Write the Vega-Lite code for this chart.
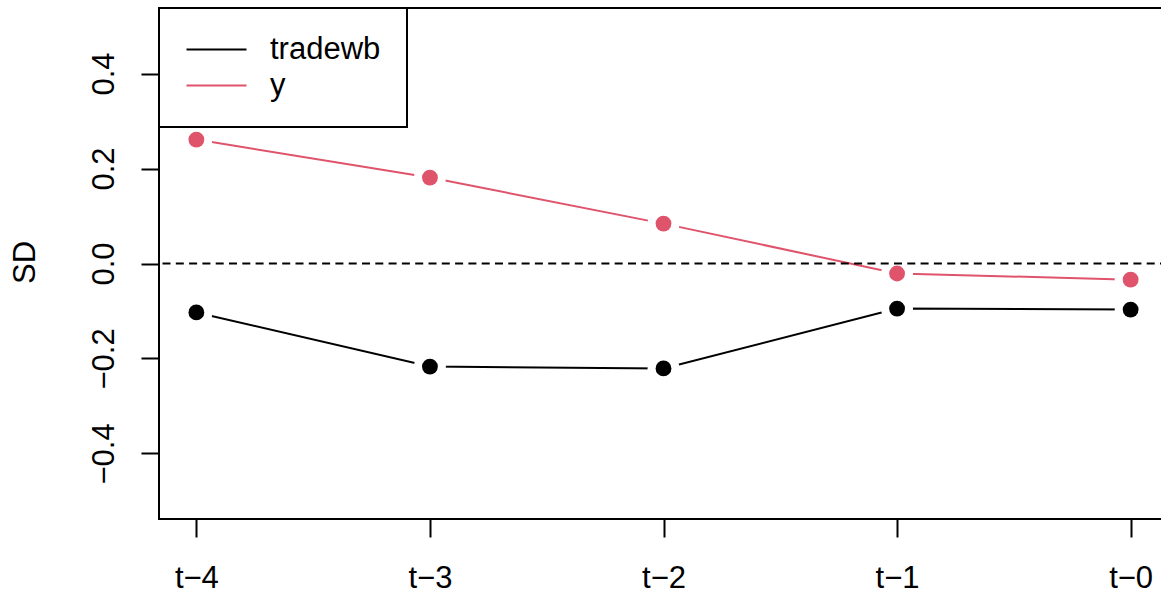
{
  "$schema": "https://vega.github.io/schema/vega-lite/v6.json",
  "width": 1009,
  "height": 511,
  "autosize": {"type": "none"},
  "padding": {"left": 159, "top": 8, "right": 0, "bottom": 74},
  "background": "white",
  "config": {
    "font": "Liberation Sans",
    "view": {"stroke": "black", "strokeWidth": 2},
    "axis": {
      "grid": false, "domain": false,
      "tickColor": "black", "tickWidth": 2, "tickSize": 18,
      "labelColor": "black", "labelFontSize": 31, "labelFont": "Liberation Sans",
      "titleFont": "Liberation Sans", "titleFontSize": 31, "titleFontWeight": "normal", "titleColor": "black"
    },
    "legend": {
      "orient": "top-left", "offset": 0, "padding": 26,
      "fillColor": "white", "strokeColor": "black", "strokeWidth": 2,
      "symbolType": "M-1,0H5", "symbolSize": 400, "symbolStrokeWidth": 2, "symbolOffset": -4,
      "labelFontSize": 31, "labelFont": "Liberation Sans", "labelColor": "black",
      "labelOffset": 58, "rowPadding": 4
    }
  },
  "data": {
    "values": [
      {"period": "t−4", "series": "tradewb", "value": -0.103},
      {"period": "t−3", "series": "tradewb", "value": -0.217},
      {"period": "t−2", "series": "tradewb", "value": -0.221},
      {"period": "t−1", "series": "tradewb", "value": -0.095},
      {"period": "t−0", "series": "tradewb", "value": -0.097},
      {"period": "t−4", "series": "y", "value": 0.261},
      {"period": "t−3", "series": "y", "value": 0.181},
      {"period": "t−2", "series": "y", "value": 0.084},
      {"period": "t−1", "series": "y", "value": -0.021},
      {"period": "t−0", "series": "y", "value": -0.034}
    ]
  },
  "encoding": {
    "x": {
      "field": "period", "type": "ordinal",
      "sort": ["t−4", "t−3", "t−2", "t−1", "t−0"],
      "scale": {"type": "point", "padding": 0.16},
      "axis": {"title": null, "labelAngle": 0, "labelBaseline": "alphabetic", "labelPadding": 50}
    },
    "y": {
      "field": "value", "type": "quantitative",
      "scale": {"domain": [-0.538, 0.538], "nice": false, "zero": false},
      "axis": {
        "title": "SD", "values": [-0.4, -0.2, 0, 0.2, 0.4], "format": ".1f",
        "labelAngle": 270, "labelAlign": "center", "labelBaseline": "alphabetic", "labelPadding": 28,
        "titleAngle": 270, "titleAlign": "center", "titleBaseline": "alphabetic", "titleX": -125, "titleY": 254
      }
    }
  },
  "layer": [
    {
      "mark": {"type": "line", "strokeWidth": 2},
      "encoding": {
        "color": {
          "field": "series", "type": "nominal",
          "scale": {"domain": ["tradewb", "y"], "range": ["black", "#DF536B"]},
          "legend": {"title": null}
        }
      }
    },
    {
      "mark": {"type": "circle", "color": "white", "size": 1018, "opacity": 1}
    },
    {
      "data": {"values": [{"ref": 0}]},
      "mark": {"type": "rule", "color": "black", "strokeWidth": 2, "strokeDash": [8, 5.3]},
      "encoding": {"x": null, "y": {"field": "ref", "type": "quantitative"}}
    },
    {
      "mark": {"type": "circle", "size": 250, "opacity": 1},
      "encoding": {
        "color": {"field": "series", "type": "nominal", "legend": null}
      }
    }
  ]
}
